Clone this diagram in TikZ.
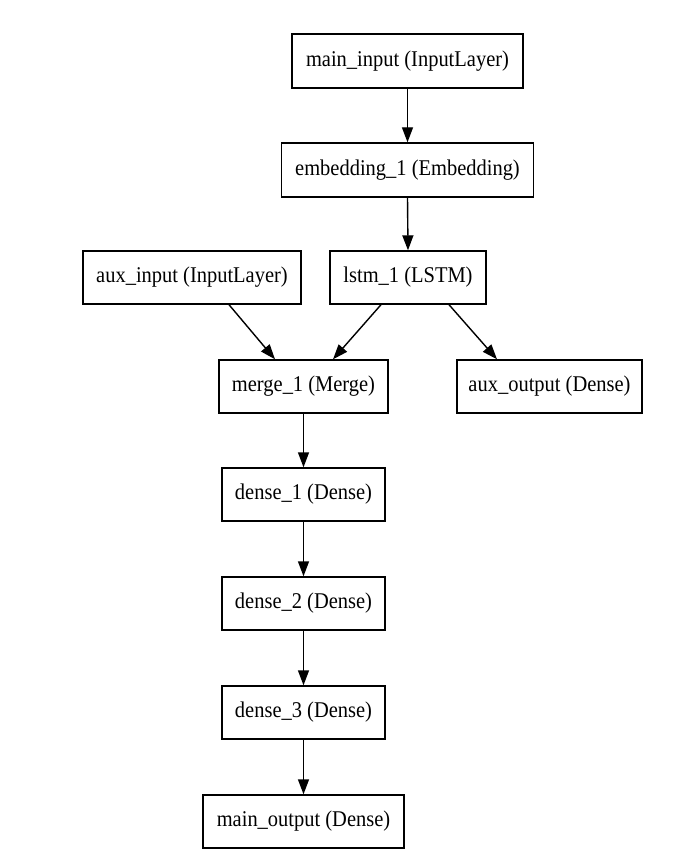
\documentclass[tikz,border=0pt]{standalone}
\usepackage{fontspec}
\setmainfont[FakeStretch=0.91]{Liberation Serif}
\usetikzlibrary{arrows.meta}
\begin{document}
\begin{tikzpicture}[x=1pt,y=-1pt,
  layer/.style={draw, line width=1.4pt, inner sep=0pt, font=\fontsize{22.5}{26}\selectfont},
  conn/.style={line width=1.4pt, -{Triangle[length=15pt,width=11pt]}}]
\useasboundingbox[fill=white] (0,0) rectangle (700,861);
\node[layer, minimum width=231pt, minimum height=54pt] (mi) at (407.5,61) {main\_input (InputLayer)};
\node[layer, minimum width=252pt, minimum height=54pt] (emb) at (407.5,170) {embedding\_1 (Embedding)};
\node[layer, minimum width=218pt, minimum height=53pt] (ai) at (192,277.5) {aux\_input (InputLayer)};
\node[layer, minimum width=156pt, minimum height=53pt] (ls) at (408,277.5) {lstm\_1 (LSTM)};
\node[layer, minimum width=169pt, minimum height=53pt] (mg) at (303.5,386.5) {merge\_1 (Merge)};
\node[layer, minimum width=185pt, minimum height=53pt] (ao) at (549.5,386.5) {aux\_output (Dense)};
\node[layer, minimum width=163pt, minimum height=53pt] (d1) at (303.5,494.5) {dense\_1 (Dense)};
\node[layer, minimum width=163pt, minimum height=53pt] (d2) at (303.5,603.5) {dense\_2 (Dense)};
\node[layer, minimum width=163pt, minimum height=53pt] (d3) at (303.5,712.5) {dense\_3 (Dense)};
\node[layer, minimum width=201pt, minimum height=53pt] (mo) at (303.5,821.5) {main\_output (Dense)};
\draw[conn] (mi) -- (emb);
\draw[conn] (emb.south) -- (ls.north);
\draw[conn] ([xshift=37pt]ai.south) -- ([xshift=-28.5pt]mg.north);
\draw[conn] ([xshift=-27pt]ls.south) -- ([xshift=29.5pt]mg.north);
\draw[conn] ([xshift=41pt]ls.south) -- ([xshift=-52.5pt]ao.north);
\draw[conn] (mg) -- (d1);
\draw[conn] (d1) -- (d2);
\draw[conn] (d2) -- (d3);
\draw[conn] (d3) -- (mo);
\end{tikzpicture}
\end{document}
